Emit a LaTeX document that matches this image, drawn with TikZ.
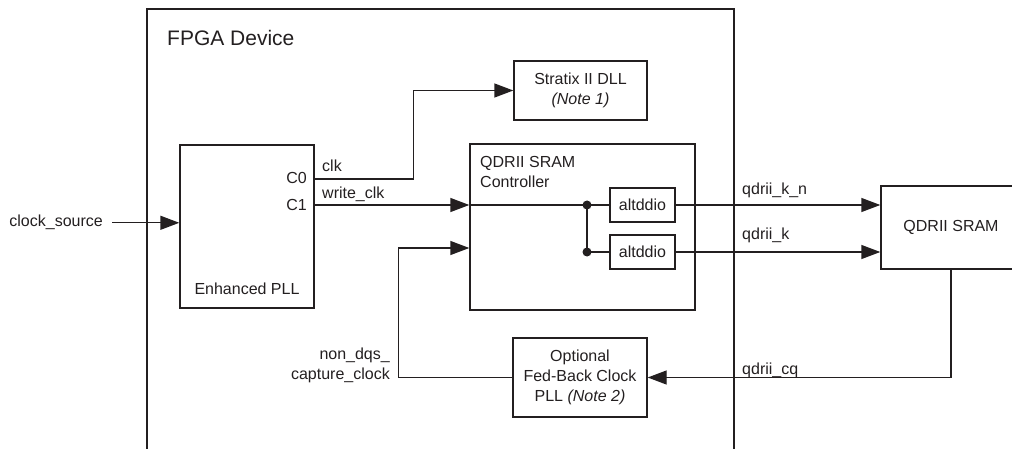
\documentclass[tikz,border=0pt]{standalone}
\usepackage{fontspec}
\setmainfont{Liberation Sans}
\usepackage{xcolor}
\usetikzlibrary{arrows.meta,positioning}

\definecolor{ink}{RGB}{35,31,32}

\tikzset{
  blk/.style 2 args={draw, line width=1.4pt, minimum width=#1pt, minimum height=#2pt,
    inner sep=0pt, align=center, font=\fontsize{16}{20}\selectfont},
  lbl/.style={inner sep=0pt, font=\fontsize{16}{20}\selectfont},
  wire/.style={line width=1.4pt},
  sig/.style={line width=1.4pt, -{Triangle[length=19pt,width=14pt]}},
}

\begin{document}
\begin{tikzpicture}[x=1pt,y=-1pt,color=ink]

\useasboundingbox (0,0) rectangle (1012,449);

% device outline, open at the bottom
\draw[wire] (147,449) -- (147,9) -- (734,9) -- (734,449);
\node[lbl, anchor=base west] (title) at (167,46) {\fontsize{21}{25}\selectfont FPGA Device};

\node[blk={134}{163}] (pll) at (247,226.5) {};
\node[blk={133}{59}] (dll) at (580.5,90.5) {Stratix II DLL\\\textit{(Note 1)}};
\node[blk={225}{166}] (ctrl) at (582.5,227) {};
\node[blk={65}{34}] (dio1) at (642.5,205) {altddio};
\node[blk={65}{34}] (dio2) at (642.5,252) {altddio};
\node[blk={140}{83}] (sram) at (951,227.5) {QDRII SRAM};
\node[blk={134}{79}] (fb) at (580,377.5) {Optional\\Fed-Back Clock\\PLL \textit{(Note 2)}};

\node[lbl, anchor=base] (plllbl) at (247,294) {Enhanced PLL};
\node[lbl, anchor=base east] (c0lbl) at (307,184) {C0};
\node[lbl, anchor=base east] (c1lbl) at (307,211) {C1};
\node[lbl, anchor=north west, align=left] (ctrllbl) at (480,156) {QDRII SRAM\\Controller};

\node[lbl, anchor=base east] (src) at (103,227) {clock\_source};
\node[lbl, anchor=base west] (clklbl) at (322,172) {clk};
\node[lbl, anchor=base west] (wclklbl) at (322,199) {write\_clk};
\node[lbl, anchor=base west] (knlbl) at (742,195) {qdrii\_k\_n};
\node[lbl, anchor=base west] (klbl) at (742,240) {qdrii\_k};
\node[lbl, anchor=base west] (cqlbl) at (742,374) {qdrii\_cq};
\node[lbl, anchor=north east, align=right] (ndqlbl) at (390,347.5) {non\_dqs\_\\capture\_clock};

\coordinate (c0) at (pll.east |- 0,179);
\coordinate (c1) at (pll.east |- 0,205);
\coordinate (j1) at (587,205);
\coordinate (j2) at (587,252);

\draw[sig] (src.east) ++(9,0) -- (src.east -| pll.west);
\draw[sig] (c0) -- ++(99,0) |- (dll.west);
\draw[sig] (c1) -- (c1 -| ctrl.west);

\draw[wire] (ctrl.west |- c1) -- (dio1.west);
\draw[wire] (j1) -- (j2) -- (dio2.west);
\fill (j1) circle (4.5pt);
\fill (j2) circle (4.5pt);

\draw[sig] (dio1.east) -- (dio1.east -| sram.west);
\draw[sig] (dio2.east) -- (dio2.east -| sram.west);

\draw[sig] (sram.south) |- (fb.east);
\draw[sig] (fb.west) -- ++(-114,0) |- (ctrl.west |- 0,248);

\end{tikzpicture}
\end{document}
